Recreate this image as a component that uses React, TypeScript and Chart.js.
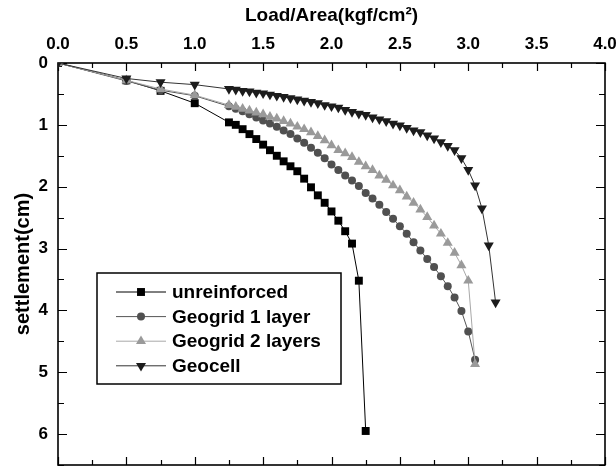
import React, { useEffect, useRef } from 'react';
import { Chart, registerables } from 'chart.js';

Chart.register(...registerables);

const FONT = "'Liberation Sans', Arial, Helvetica, sans-serif";

// Load/Area (kgf/cm2) values
const unreinforcedLoad = [0, 0.5, 0.75, 1.0, 1.25, 1.3, 1.35, 1.4, 1.45, 1.5, 1.55, 1.6, 1.65, 1.7, 1.75, 1.8, 1.85, 1.9, 1.95, 2.0, 2.05, 2.1, 2.15, 2.2, 2.25];
const unreinforcedSettlement = [0, 0.28, 0.45, 0.65, 0.96, 1.0, 1.07, 1.15, 1.23, 1.32, 1.41, 1.5, 1.59, 1.67, 1.75, 1.87, 2.01, 2.14, 2.26, 2.4, 2.55, 2.72, 2.92, 3.52, 5.95];

const geogridLoad = [0, 0.5, 0.75, 1.0, 1.25, 1.3, 1.35, 1.4, 1.45, 1.5, 1.55, 1.6, 1.65, 1.7, 1.75, 1.8, 1.85, 1.9, 1.95, 2.0, 2.05, 2.1, 2.15, 2.2, 2.25, 2.3, 2.35, 2.4, 2.45, 2.5, 2.55, 2.6, 2.65, 2.7, 2.75, 2.8, 2.85, 2.9, 2.95, 3.0, 3.05];
const geogrid1Settlement = [0, 0.29, 0.44, 0.53, 0.70, 0.74, 0.78, 0.83, 0.88, 0.93, 0.98, 1.03, 1.09, 1.15, 1.22, 1.29, 1.37, 1.45, 1.54, 1.64, 1.73, 1.82, 1.90, 1.99, 2.10, 2.19, 2.29, 2.41, 2.52, 2.64, 2.76, 2.90, 3.03, 3.17, 3.30, 3.45, 3.61, 3.79, 4.01, 4.34, 4.80];
const geogrid2Settlement = [0, 0.28, 0.42, 0.52, 0.68, 0.71, 0.74, 0.77, 0.80, 0.83, 0.87, 0.90, 0.94, 0.98, 1.03, 1.07, 1.12, 1.18, 1.25, 1.33, 1.41, 1.46, 1.52, 1.60, 1.67, 1.73, 1.82, 1.89, 1.98, 2.06, 2.16, 2.26, 2.37, 2.49, 2.63, 2.76, 2.91, 3.07, 3.27, 3.52, 4.87];

const geocellLoad = [0, 0.5, 0.75, 1.0, 1.25, 1.3, 1.35, 1.4, 1.45, 1.5, 1.55, 1.6, 1.65, 1.7, 1.75, 1.8, 1.85, 1.9, 1.95, 2.0, 2.05, 2.1, 2.15, 2.2, 2.25, 2.3, 2.35, 2.4, 2.45, 2.5, 2.55, 2.6, 2.65, 2.7, 2.75, 2.8, 2.85, 2.9, 2.95, 3.0, 3.05, 3.1, 3.15, 3.2];
const geocellSettlement = [0, 0.25, 0.31, 0.35, 0.42, 0.43, 0.45, 0.46, 0.48, 0.49, 0.51, 0.53, 0.55, 0.57, 0.59, 0.61, 0.63, 0.65, 0.68, 0.70, 0.72, 0.76, 0.79, 0.82, 0.84, 0.88, 0.91, 0.94, 0.98, 1.01, 1.05, 1.09, 1.12, 1.17, 1.22, 1.28, 1.34, 1.41, 1.54, 1.73, 1.98, 2.35, 2.95, 3.87];

const seriesLabels = ['unreinforced', 'Geogrid 1 layer', 'Geogrid 2 layers', 'Geocell'];

const xTitle = 'Load/Area(kgf/cm²)';
const yTitle = 'settlement(cm)';
const xMin = 0, xMax = 4, xMajorStep = 0.5, xMinorStep = 0.25;
const yMin = 0, yMax = 6.5, yMajorStep = 1, yMinorStep = 0.5;

const toPoints = (xs: number[], ys: number[]) => xs.map((x, i) => ({ x, y: ys[i] }));

function drawMarker(ctx: CanvasRenderingContext2D, style: string, x: number, y: number, r: number, rot: number) {
  ctx.beginPath();
  if (style === 'rect') {
    const s = r * Math.SQRT1_2;
    ctx.rect(x - s, y - s, 2 * s, 2 * s);
  } else if (style === 'circle') {
    ctx.arc(x, y, r, 0, Math.PI * 2);
  } else {
    let a = (rot * Math.PI) / 180;
    for (let k = 0; k < 3; k++) {
      const px = x + Math.sin(a) * r;
      const py = y - Math.cos(a) * r;
      if (k === 0) ctx.moveTo(px, py);
      else ctx.lineTo(px, py);
      a += (2 * Math.PI) / 3;
    }
  }
  ctx.closePath();
  ctx.fill();
}

const framePlugin = {
  id: 'frameTicks',
  beforeDatasetsDraw(chart: any) {
    const { ctx, chartArea: a, scales } = chart;
    const xs = scales.x;
    const ys = scales.y;
    ctx.save();
    ctx.strokeStyle = '#000';
    ctx.lineWidth = 1.2;
    ctx.beginPath();
    for (let v = xMin; v <= xMax + 1e-9; v += xMinorStep) {
      const px = Math.round(xs.getPixelForValue(v)) + 0.5;
      const major = Math.abs(v / xMajorStep - Math.round(v / xMajorStep)) < 1e-6;
      const len = major ? 8 : 5;
      ctx.moveTo(px, a.top);
      ctx.lineTo(px, a.top + len);
      ctx.moveTo(px, a.bottom);
      ctx.lineTo(px, a.bottom - len);
    }
    for (let v = yMin; v <= yMax + 1e-9; v += yMinorStep) {
      const py = Math.round(ys.getPixelForValue(v)) + 0.5;
      const major = Math.abs(v / yMajorStep - Math.round(v / yMajorStep)) < 1e-6;
      const len = major ? 9 : 6;
      ctx.moveTo(a.left, py);
      ctx.lineTo(a.left + len, py);
      ctx.moveTo(a.right, py);
      ctx.lineTo(a.right - len, py);
    }
    ctx.stroke();
    ctx.lineWidth = 1.6;
    ctx.strokeRect(a.left, a.top, a.right - a.left, a.bottom - a.top);
    ctx.restore();
  },
};

const legendPlugin = {
  id: 'boxLegend',
  afterDraw(chart: any) {
    const { ctx } = chart;
    const bx = 97, by = 273, bw = 244, bh = 111;
    ctx.save();
    ctx.fillStyle = '#fff';
    ctx.fillRect(bx, by, bw, bh);
    ctx.strokeStyle = '#000';
    ctx.lineWidth = 1.5;
    ctx.strokeRect(bx, by, bw, bh);
    chart.data.datasets.forEach((ds: any, i: number) => {
      const y = by + 19 + i * 24.6;
      ctx.strokeStyle = ds.borderColor;
      ctx.lineWidth = 1;
      ctx.beginPath();
      ctx.moveTo(116, y);
      ctx.lineTo(166, y);
      ctx.stroke();
      ctx.fillStyle = ds.pointBackgroundColor;
      drawMarker(ctx, ds.pointStyle, 141, y, ds.pointRadius, ds.pointRotation || 0);
      ctx.fillStyle = '#000';
      ctx.font = `bold 19px ${FONT}`;
      ctx.textBaseline = 'middle';
      ctx.textAlign = 'left';
      ctx.fillText(ds.label, 172, y + 1);
    });
    ctx.restore();
  },
};

export default function App() {
  const canvasRef = useRef<HTMLCanvasElement | null>(null);

  useEffect(() => {
    document.body.style.margin = '0';
    const canvas = canvasRef.current;
    if (!canvas) return;
    const mk = (label: string, data: any[], color: string, lineColor: string, style: string, radius: number, rot: number, order: number) => ({
      label,
      data,
      showLine: true,
      borderColor: lineColor,
      borderWidth: 1,
      backgroundColor: color,
      pointBackgroundColor: color,
      pointBorderColor: color,
      pointBorderWidth: 0,
      pointStyle: style,
      pointRadius: radius,
      pointRotation: rot,
      tension: 0,
      clip: 0,
      order,
    });
    const chart = new Chart(canvas, {
      type: 'scatter',
      data: {
        datasets: [
          mk(seriesLabels[0], toPoints(unreinforcedLoad, unreinforcedSettlement), '#000000', '#000000', 'rect', 5.6, 0, 4),
          mk(seriesLabels[1], toPoints(geogridLoad, geogrid1Settlement), '#505050', '#555555', 'circle', 4, 0, 3),
          mk(seriesLabels[2], toPoints(geogridLoad, geogrid2Settlement), '#9a9a9a', '#a8a8a8', 'triangle', 5.8, 0, 2),
          mk(seriesLabels[3], toPoints(geocellLoad, geocellSettlement), '#1c1c1c', '#333333', 'triangle', 5.8, 180, 1),
        ] as any,
      },
      options: {
        animation: false,
        responsive: false,
        devicePixelRatio: 1,
        layout: { autoPadding: false, padding: { left: 0, top: 0, right: 11, bottom: 3 } },
        plugins: { legend: { display: false }, tooltip: { enabled: false } },
        scales: {
          x: {
            type: 'linear',
            position: 'top',
            min: xMin,
            max: xMax,
            grid: { display: false, drawTicks: false },
            border: { display: false },
            ticks: {
              stepSize: xMajorStep,
              autoSkip: false,
              maxRotation: 0,
              color: '#000',
              padding: 8,
              font: { family: FONT, size: 17, weight: 'bold' },
              callback: (v: any) => Number(v).toFixed(1),
            },
            title: {
              display: true,
              text: xTitle,
              color: '#000',
              font: { family: FONT, size: 19, weight: 'bold' },
              padding: { top: 4, bottom: 0 },
            },
            afterFit: (s: any) => {
              s.height = 63;
              s.paddingLeft = 0;
              s.paddingRight = 0;
              s.paddingTop = 0;
              s.paddingBottom = 0;
            },
          },
          y: {
            type: 'linear',
            reverse: true,
            min: yMin,
            max: yMax,
            grid: { display: false, drawTicks: false },
            border: { display: false },
            ticks: {
              stepSize: yMajorStep,
              includeBounds: false,
              color: '#000',
              padding: 10,
              font: { family: FONT, size: 17, weight: 'bold' },
              callback: (v: any) => (Number.isInteger(Number(v)) ? String(v) : ''),
            },
            title: {
              display: true,
              text: yTitle,
              color: '#000',
              font: { family: FONT, size: 20, weight: 'bold' },
              padding: { top: 11, bottom: 0 },
            },
            afterFit: (s: any) => {
              s.width = 58;
              s.paddingLeft = 0;
              s.paddingRight = 0;
              s.paddingTop = 0;
              s.paddingBottom = 0;
            },
          },
        },
      } as any,
      plugins: [framePlugin, legendPlugin],
    });
    return () => chart.destroy();
  }, []);

  return (
    <div style={{ width: 616, height: 468 }}>
      <canvas ref={canvasRef} width={616} height={468} />
    </div>
  );
}
